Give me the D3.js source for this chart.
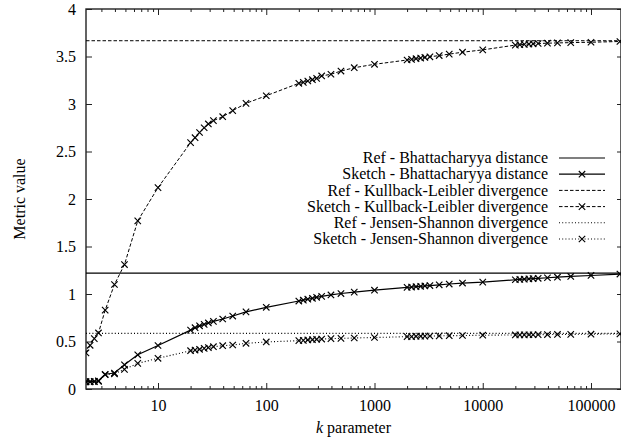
<!DOCTYPE html>
<html>
<head>
<meta charset="utf-8">
<script src="https://cdn.jsdelivr.net/npm/d3@7"></script>
<style>
  html, body { margin: 0; padding: 0; background: #fff; }
  svg { display: block; }
  text { font-family: "Liberation Serif", "Times New Roman", "DejaVu Serif", serif; fill: #000; }
</style>
</head>
<body>
<svg id="chart" width="621" height="446"></svg>
<script>
// ---------------- data ----------------
const kValues = [2.16, 2.36, 2.58, 2.82, 3.25, 3.96, 4.9, 6.5, 10,
  20, 22, 24.2, 26.7, 29.2, 32.5, 39.6, 49, 65, 100,
  200, 220, 242, 267, 292, 325, 396, 490, 650, 1000,
  2000, 2200, 2420, 2670, 2920, 3250, 3960, 4900, 6500, 10000,
  20000, 22000, 24200, 26700, 29200, 32500, 39600, 49000, 65000, 100000,
  185000];

const sketchBhattacharyya = [0.077, 0.077, 0.08, 0.087, 0.155, 0.168, 0.255, 0.36, 0.458,
  0.62, 0.645, 0.665, 0.68, 0.695, 0.712, 0.737, 0.768, 0.812, 0.86,
  0.926, 0.935, 0.945, 0.955, 0.965, 0.975, 0.99, 1.005, 1.02, 1.04,
  1.07, 1.073, 1.077, 1.081, 1.085, 1.089, 1.097, 1.105, 1.115, 1.125,
  1.15, 1.153, 1.156, 1.159, 1.162, 1.165, 1.171, 1.177, 1.185, 1.195,
  1.21];

const sketchKullbackLeibler = [0.38, 0.46, 0.53, 0.59, 0.83, 1.1, 1.31, 1.77, 2.12,
  2.593, 2.645, 2.70, 2.75, 2.79, 2.825, 2.866, 2.93, 3.007, 3.087,
  3.218, 3.228, 3.242, 3.256, 3.27, 3.295, 3.313, 3.347, 3.382, 3.418,
  3.463, 3.47, 3.477, 3.484, 3.49, 3.497, 3.51, 3.525, 3.545, 3.57,
  3.62, 3.624, 3.628, 3.631, 3.634, 3.637, 3.64, 3.643, 3.646, 3.65,
  3.658];

const sketchJensenShannon = [0.075, 0.076, 0.078, 0.08, 0.15, 0.16, 0.207, 0.27, 0.323,
  0.403, 0.41, 0.418, 0.428, 0.436, 0.445, 0.456, 0.463, 0.481, 0.495,
  0.509, 0.512, 0.516, 0.519, 0.523, 0.526, 0.53, 0.533, 0.537, 0.542,
  0.551, 0.551, 0.555, 0.556, 0.557, 0.558, 0.559, 0.561, 0.563, 0.566,
  0.569, 0.57, 0.57, 0.571, 0.571, 0.572, 0.573, 0.574, 0.575, 0.577,
  0.58];

const refBhattacharyya = 1.22;
const refKullbackLeibler = 3.666;
const refJensenShannon = 0.586;

const xDomain = [2.162, 189300];
const yTicks = [0, 0.5, 1, 1.5, 2, 2.5, 3, 3.5, 4];
const xMajorTicks = [10, 100, 1000, 10000, 100000];

const legendLabels = [
  "Ref - Bhattacharyya distance",
  "Sketch - Bhattacharyya distance",
  "Ref - Kullback-Leibler divergence",
  "Sketch - Kullback-Leibler divergence",
  "Ref - Jensen-Shannon divergence",
  "Sketch - Jensen-Shannon divergence"
];

// ---------------- layout ----------------
const L = 86, R = 621, T = 9, B = 389;
const FS = 16;
const svg = d3.select("#chart");

const x = d3.scaleLog().domain(xDomain).range([L, R]);
const y = d3.scaleLinear().domain([0, 4]).range([B, T]);

// minor ticks
const xMinor = [];
for (let d = 1; d <= 100000; d *= 10) {
  for (let m = 2; m <= 9; m++) {
    const v = m * d;
    if (v >= xDomain[0] && v <= xDomain[1]) xMinor.push(v);
  }
}

const axisColor = "#222";

// bottom axis
const gB = svg.append("g").attr("transform", `translate(0,${B})`)
  .call(d3.axisBottom(x).tickValues(xMajorTicks).tickFormat(d3.format("d")).tickSize(-6).tickSizeOuter(0));
gB.select(".domain").remove();
gB.selectAll("text").attr("font-size", FS).attr("dy", null).attr("y", 22);
gB.selectAll("line").attr("stroke", axisColor);
svg.append("g").attr("transform", `translate(0,${B})`)
  .call(d3.axisBottom(x).tickValues(xMinor).tickFormat("").tickSize(-3).tickSizeOuter(0))
  .call(g => g.select(".domain").remove())
  .selectAll("line").attr("stroke", axisColor);

// top axis
svg.append("g").attr("transform", `translate(0,${T})`)
  .call(d3.axisTop(x).tickValues(xMajorTicks).tickFormat("").tickSize(-6).tickSizeOuter(0))
  .call(g => g.select(".domain").remove())
  .selectAll("line").attr("stroke", axisColor);
svg.append("g").attr("transform", `translate(0,${T})`)
  .call(d3.axisTop(x).tickValues(xMinor).tickFormat("").tickSize(-3).tickSizeOuter(0))
  .call(g => g.select(".domain").remove())
  .selectAll("line").attr("stroke", axisColor);

// left axis
const gL = svg.append("g").attr("transform", `translate(${L},0)`)
  .call(d3.axisLeft(y).tickValues(yTicks).tickFormat(d => d3.format("")(d)).tickSize(-6).tickSizeOuter(0));
gL.select(".domain").remove();
gL.selectAll("text").attr("font-size", FS).attr("x", -10);
gL.selectAll("line").attr("stroke", axisColor);

// right axis ticks
svg.append("g").attr("transform", `translate(${R},0)`)
  .call(d3.axisRight(y).tickValues(yTicks).tickFormat("").tickSize(-4).tickSizeOuter(0))
  .call(g => g.select(".domain").remove())
  .selectAll("line").attr("stroke", axisColor);

// frame
svg.append("rect").attr("x", L).attr("y", T).attr("width", R - L).attr("height", B - T)
  .attr("fill", "none").attr("stroke", axisColor).attr("stroke-width", 1.4);

// axis titles
svg.append("text").attr("x", (L + R) / 2).attr("y", 433).attr("text-anchor", "middle")
  .attr("font-size", FS)
  .html('<tspan font-style="italic">k</tspan> parameter');
svg.append("text").attr("transform", `translate(25,${(T + B) / 2}) rotate(-90)`)
  .attr("text-anchor", "middle").attr("font-size", FS).text("Metric value");

// ---------------- series ----------------
svg.append("clipPath").attr("id", "clip")
  .append("rect").attr("x", L).attr("y", T - 4).attr("width", R - L + 4).attr("height", B - T + 8);
const plot = svg.append("g").attr("clip-path", "url(#clip)");

const line = d3.line().x(d => x(d[0])).y(d => y(d[1]));

const styles = {
  bh: { dash: null, width: 1.2 },
  kl: { dash: "3.5,2", width: 1 },
  js: { dash: "1,2.2", width: 1.1 }
};

function refLine(val, st) {
  plot.append("path").datum([[xDomain[0], val], [xDomain[1], val]])
    .attr("d", line).attr("fill", "none").attr("stroke", "#000")
    .attr("stroke-width", st.width).attr("stroke-dasharray", st.dash);
}
function sketchLine(vals, st) {
  const data = kValues.map((k, i) => [k, vals[i]]);
  plot.append("path").datum(data).attr("d", line).attr("fill", "none")
    .attr("stroke", "#000").attr("stroke-width", st.width).attr("stroke-dasharray", st.dash);
  plot.append("g").selectAll("path").data(data).join("path")
    .attr("d", d => {
      const cx = x(d[0]), cy = y(d[1]), s = 3.2;
      return `M${cx - s},${cy - s}L${cx + s},${cy + s}M${cx - s},${cy + s}L${cx + s},${cy - s}`;
    })
    .attr("stroke", "#000").attr("stroke-width", 1.15).attr("fill", "none");
}

refLine(refBhattacharyya, styles.bh);
sketchLine(sketchBhattacharyya, styles.bh);
refLine(refKullbackLeibler, styles.kl);
sketchLine(sketchKullbackLeibler, styles.kl);
refLine(refJensenShannon, styles.js);
sketchLine(sketchJensenShannon, styles.js);

// ---------------- legend ----------------
const legendStyles = [
  { st: styles.bh, marker: false }, { st: styles.bh, marker: true },
  { st: styles.kl, marker: false }, { st: styles.kl, marker: true },
  { st: styles.js, marker: false }, { st: styles.js, marker: true }
];
const lg = svg.append("g");
legendLabels.forEach((lab, i) => {
  const yy = 158 + i * 16.2;
  lg.append("text").attr("x", 548).attr("y", yy).attr("dy", "0.33em")
    .attr("text-anchor", "end").attr("font-size", FS).text(lab);
  const s = legendStyles[i];
  lg.append("line").attr("x1", 559).attr("x2", 605).attr("y1", yy).attr("y2", yy)
    .attr("stroke", "#000").attr("stroke-width", s.st.width).attr("stroke-dasharray", s.st.dash);
  if (s.marker) {
    const cx = 582, z = 3.2;
    lg.append("path")
      .attr("d", `M${cx - z},${yy - z}L${cx + z},${yy + z}M${cx - z},${yy + z}L${cx + z},${yy - z}`)
      .attr("stroke", "#000").attr("stroke-width", 1.15);
  }
});
</script>
</body>
</html>
